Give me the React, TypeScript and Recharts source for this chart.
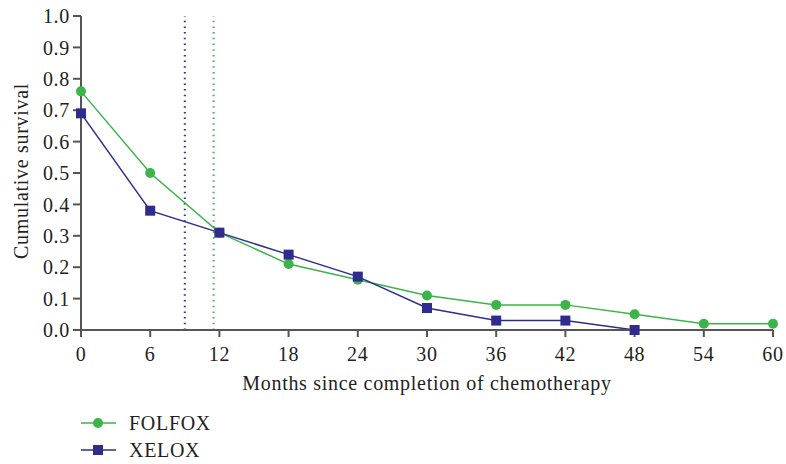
import {
  LineChart,
  Line,
  XAxis,
  YAxis,
  ReferenceLine,
} from "recharts";

const months = [0, 6, 12, 18, 24, 30, 36, 42, 48, 54, 60];
const folfox = [0.76, 0.5, 0.31, 0.21, 0.16, 0.11, 0.08, 0.08, 0.05, 0.02, 0.02];
const xelox = [0.69, 0.38, 0.31, 0.24, 0.17, 0.07, 0.03, 0.03, 0.0, null, null];
const yTicks = [0, 0.1, 0.2, 0.3, 0.4, 0.5, 0.6, 0.7, 0.8, 0.9, 1.0];
const medianXelox = 9;
const medianFolfox = 11.5;

const GREEN = "#3cb44a";
const BLUE = "#302c8f";
const AXIS = "#555555";
const TEXT = "#231f20";
const FONT = "'Liberation Serif', 'DejaVu Serif', serif";
const LS = 0.7;

const data = months.map((m, i) => ({ month: m, folfox: folfox[i], xelox: xelox[i] }));

const SquareDot = (props: any) => {
  const { cx, cy, value } = props;
  if (value == null || cx == null) return null;
  return <rect x={cx - 5} y={cy - 5} width={10} height={10} fill={BLUE} />;
};

const tickStyle = { fill: TEXT, fontSize: 20, fontFamily: FONT, letterSpacing: LS };

export default function App() {
  return (
    <div style={{ position: "fixed", left: 0, top: 0, width: 786, height: 464, background: "#fff", fontFamily: FONT }}>
      <LineChart
        width={786}
        height={464}
        data={data}
        margin={{ top: 16, right: 13, left: 0, bottom: 94 }}
      >
        <XAxis
          dataKey="month"
          type="number"
          domain={[0, 60]}
          ticks={months}
          interval={0}
          height={40}
          stroke={AXIS}
          strokeWidth={2}
          tickSize={7}
          tick={tickStyle}
          tickMargin={10}
        />
        <YAxis
          type="number"
          domain={[0, 1]}
          ticks={yTicks}
          interval={0}
          width={81}
          stroke={AXIS}
          strokeWidth={2}
          tickSize={8}
          tickMargin={3}
          tickFormatter={(v: number) => v.toFixed(1)}
          tick={tickStyle}
        />
        <ReferenceLine x={medianXelox} stroke={BLUE} strokeWidth={2} strokeDasharray="1.5 4.2" />
        <ReferenceLine x={medianFolfox} stroke={GREEN} strokeWidth={2} strokeDasharray="1.5 4.2" />
        <Line
          dataKey="folfox"
          stroke={GREEN}
          strokeWidth={1.5}
          dot={{ r: 5, fill: GREEN, stroke: GREEN, strokeWidth: 0 }}
          isAnimationActive={false}
        />
        <Line
          dataKey="xelox"
          stroke={BLUE}
          strokeWidth={1.5}
          dot={<SquareDot />}
          isAnimationActive={false}
        />
      </LineChart>
      <svg style={{ position: "absolute", left: 0, top: 0 }} width={786} height={464}>
        <text
          x={427}
          y={383}
          textAnchor="middle"
          dominantBaseline="central"
          fill={TEXT}
          fontSize={20}
          fontFamily={FONT}
          letterSpacing={LS}
        >
          Months since completion of chemotherapy
        </text>
        <text
          transform="translate(21,171) rotate(-90)"
          textAnchor="middle"
          dominantBaseline="central"
          fill={TEXT}
          fontSize={20}
          fontFamily={FONT}
          letterSpacing={LS}
        >
          Cumulative survival
        </text>
        <line x1={81} x2={116} y1={423} y2={423} stroke={GREEN} strokeWidth={1.5} />
        <circle cx={98} cy={423} r={5} fill={GREEN} />
        <text x={129} y={423} dominantBaseline="central" fill={TEXT} fontSize={20} fontFamily={FONT} letterSpacing={LS}>
          FOLFOX
        </text>
        <line x1={81} x2={116} y1={450} y2={450} stroke={BLUE} strokeWidth={1.5} />
        <rect x={93} y={445} width={10} height={10} fill={BLUE} />
        <text x={129} y={450} dominantBaseline="central" fill={TEXT} fontSize={20} fontFamily={FONT} letterSpacing={LS}>
          XELOX
        </text>
      </svg>
    </div>
  );
}
